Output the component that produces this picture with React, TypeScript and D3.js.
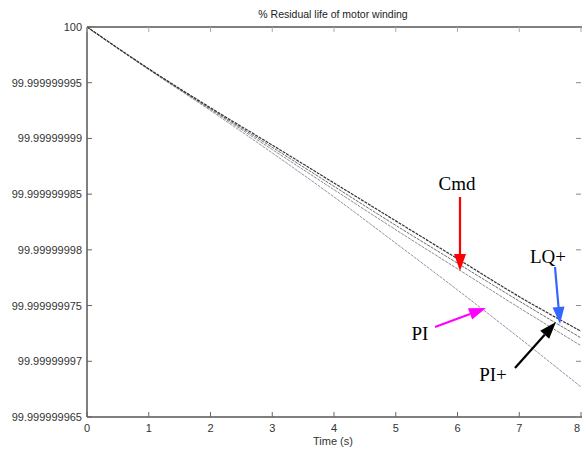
import React from "react";
import * as d3 from "d3";

const timeS = [0, 1, 2, 3, 4, 5, 6, 7, 8];
// deficit below 100 %, in units of 1e-9 %
const cmdDef = [0, 3.75, 7.25, 10.6, 14.0, 17.4, 20.8, 24.2, 27.3];
const lqDef = [0, 3.77, 7.33, 10.8, 14.3, 17.8, 21.2, 24.6, 27.9];
const piPlusDef = [0, 3.8, 7.4, 11.0, 14.6, 18.2, 21.7, 25.2, 28.6];
const piDef = [0, 3.82, 7.5, 11.3, 15.25, 19.4, 23.6, 27.9, 32.3];

const xTicks = [0, 1, 2, 3, 4, 5, 6, 7, 8];
const yTickValues = [100, 99.999999995, 99.99999999, 99.999999985, 99.99999998, 99.999999975, 99.99999997, 99.999999965];
const yTickLabels = ["100", "99.999999995", "99.99999999", "99.999999985", "99.99999998", "99.999999975", "99.99999997", "99.999999965"];

const W = 582, H = 452;
const L = 87, R = 581, T = 27, B = 417;

export default function App() {
  const x = d3.scaleLinear().domain([0, 8]).range([L, R]);
  const y = d3.scaleLinear().domain([99.999999965, 100]).range([B, T]);
  const toPts = (def: number[]) => timeS.map((t, i) => [t, 100 - def[i] * 1e-9] as [number, number]);
  const line = d3.line<[number, number]>().x(d => x(d[0])).y(d => y(d[1])).curve(d3.curveMonotoneX);
  const font = "Arial, 'Liberation Sans', sans-serif";
  const serif = "'Times New Roman', 'Liberation Serif', serif";

  const arrow = (x1: number, y1: number, x2: number, y2: number, color: string, key: string) => {
    const ang = Math.atan2(y2 - y1, x2 - x1);
    const len = 17, hw = 6;
    const bx = x2 - len * Math.cos(ang), by = y2 - len * Math.sin(ang);
    const px = -Math.sin(ang) * hw, py = Math.cos(ang) * hw;
    return (
      <g key={key}>
        <line x1={x1} y1={y1} x2={bx} y2={by} stroke={color} strokeWidth={2.2} />
        <polygon points={`${x2},${y2} ${bx + px},${by + py} ${bx - px},${by - py}`} fill={color} />
      </g>
    );
  };

  return (
    <svg width={W} height={H} style={{ position: "absolute", left: 0, top: 0, background: "#fff" }}>
      <rect width={W} height={H} fill="#fff" />
      <text x={333} y={18} textAnchor="middle" fontFamily={font} fontSize={10.5} fill="#222">% Residual life of motor winding</text>

      {/* lines */}
      <path d={line(toPts(piDef)) || ""} fill="none" stroke="#a08aa8" strokeWidth={1} strokeDasharray="3,1" />
      <path d={line(toPts(piPlusDef)) || ""} fill="none" stroke="#8c8c8c" strokeWidth={1} strokeDasharray="3,1" />
      <path d={line(toPts(lqDef)) || ""} fill="none" stroke="#6a6a6a" strokeWidth={1} strokeDasharray="3,1" />
      <path d={line(toPts(cmdDef)) || ""} fill="none" stroke="#333" strokeWidth={1.2} strokeDasharray="3,1" />

      {/* axes frame */}
      <line x1={L} y1={T} x2={R + 2} y2={T} stroke="#555" strokeWidth={1.5} />
      <line x1={L} y1={T} x2={L} y2={B} stroke="#555" strokeWidth={1.5} />
      <line x1={L} y1={B} x2={R + 2} y2={B} stroke="#555" strokeWidth={1.5} />

      {xTicks.map(t => (
        <g key={"xt" + t}>
          <line x1={x(t)} y1={B} x2={x(t)} y2={B - 5} stroke="#666" />
          <line x1={x(t)} y1={T} x2={x(t)} y2={T + 5} stroke="#aaa" />
          <text x={Math.min(x(t), W - 5)} y={B + 15} textAnchor="middle" fontFamily={font} fontSize={11} fill="#333">{t}</text>
        </g>
      ))}
      {yTickValues.map((v, i) => (
        <g key={"yt" + i}>
          <line x1={L} y1={y(v)} x2={L + 5} y2={y(v)} stroke="#666" />
          <line x1={R} y1={y(v)} x2={R - 5} y2={y(v)} stroke="#888" />
          <text x={82} y={y(v) + 4} textAnchor="end" fontFamily={font} fontSize={11} fill="#333">{yTickLabels[i]}</text>
        </g>
      ))}
      <text x={333} y={445} textAnchor="middle" fontFamily={font} fontSize={11} fill="#333">Time (s)</text>

      {/* annotations */}
      <text x={457} y={190} textAnchor="middle" fontFamily={serif} fontSize={19} fill="#000">Cmd</text>
      {arrow(460, 197, 460, 271, "#ff0000", "a1")}
      <text x={548} y={263} textAnchor="middle" fontFamily={serif} fontSize={19} fill="#000">LQ+</text>
      {arrow(555, 267, 560, 324, "#3366ff", "a2")}
      <text x={420} y={340} textAnchor="middle" fontFamily={serif} fontSize={19} fill="#000">PI</text>
      {arrow(435, 327, 486, 308, "#ff00ff", "a3")}
      <text x={493} y={381} textAnchor="middle" fontFamily={serif} fontSize={19} fill="#000">PI+</text>
      {arrow(515, 368, 556, 322, "#000", "a4")}
    </svg>
  );
}
